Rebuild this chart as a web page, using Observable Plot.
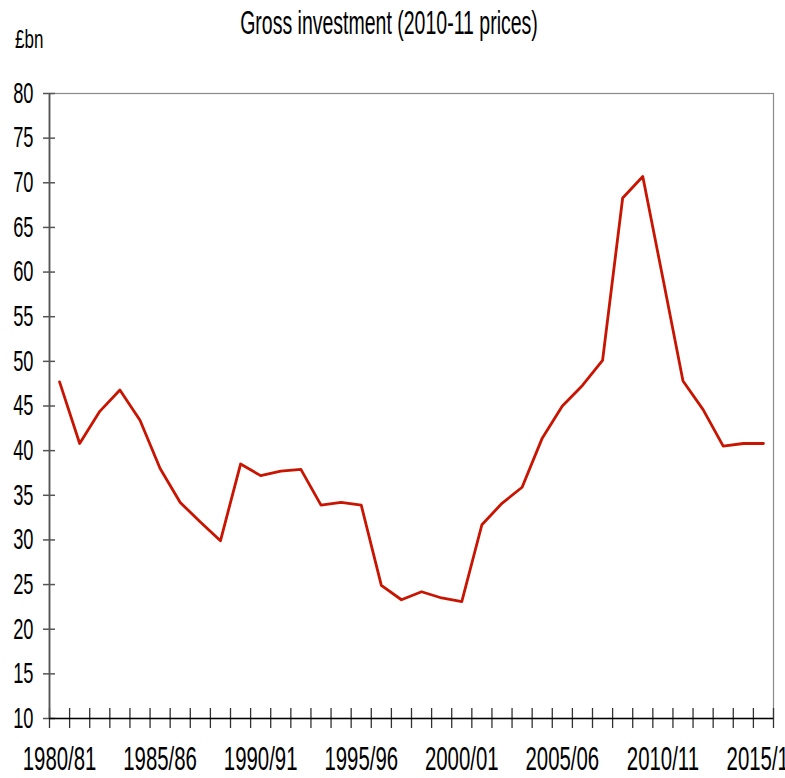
<!DOCTYPE html>
<html>
<head>
<meta charset="utf-8">
<script src="https://cdn.jsdelivr.net/npm/d3@7"></script>
<script src="https://cdn.jsdelivr.net/npm/@observablehq/plot@0.6"></script>
<style>
  html, body { margin: 0; padding: 0; background: #fff; overflow: hidden; }
  #head { position: relative; width: 785px; height: 60px; font-family: "Liberation Sans", Arial, sans-serif; color: #000; }
  #title { position: absolute; left: -4px; width: 785px; top: 8px; text-align: center; font-size: 30px; line-height: 30px; white-space: nowrap; }
  #title span { display: inline-block; transform: scale(0.65, 1.12); transform-origin: center; }
  #unit { position: absolute; left: 15px; top: 27px; font-size: 25px; line-height: 25px; transform: scale(0.68, 1.05); transform-origin: left center; white-space: nowrap; }
</style>
</head>
<body>
<div id="head"><div id="title"><span>Gross investment (2010-11 prices)</span></div><div id="unit">£bn</div></div>
<div id="chart"></div>
<script>
const years = ["1980/81","1981/82","1982/83","1983/84","1984/85","1985/86","1986/87","1987/88","1988/89","1989/90",
  "1990/91","1991/92","1992/93","1993/94","1994/95","1995/96","1996/97","1997/98","1998/99","1999/00",
  "2000/01","2001/02","2002/03","2003/04","2004/05","2005/06","2006/07","2007/08","2008/09","2009/10",
  "2010/11","2011/12","2012/13","2013/14","2014/15","2015/16"];
const investment = [47.7, 40.8, 44.4, 46.8, 43.4, 38.0, 34.2, 32.0, 29.9, 38.5,
  37.2, 37.7, 37.9, 33.9, 34.2, 33.9, 24.9, 23.3, 24.2, 23.5,
  23.1, 31.7, 34.1, 35.9, 41.4, 45.0, 47.3, 50.1, 68.3, 70.7,
  59.3, 47.8, 44.6, 40.5, 40.8, 40.8];
const yTicks = [10, 15, 20, 25, 30, 35, 40, 45, 50, 55, 60, 65, 70, 75, 80];
const labelEvery = 5;

const data = years.map((year, i) => ({i, year, value: investment[i]}));
const n = years.length;
const boundaries = d3.range(n + 1).map(k => k - 0.5);
const labelIdx = d3.range(0, n, labelEvery);
const font = '"Liberation Sans", Arial, sans-serif';

const chart = Plot.plot({
  width: 785,
  height: 718,
  marginLeft: 49,
  marginRight: 12,
  marginTop: 33,
  marginBottom: 60,
  style: {fontFamily: font, fontSize: "24px", color: "#000", background: "#fff", overflow: "visible"},
  x: {type: "linear", domain: [-0.5, n - 0.5], label: null},
  y: {domain: [10, 80], label: null},
  marks: [
    Plot.frame({stroke: "#8a8a8a", strokeWidth: 1.2}),
    // y tick marks crossing the axis
    Plot.axisY({ticks: yTicks, tickSize: 12, dx: 6, text: null, label: null, stroke: "#555", strokeWidth: 1.5}),
    Plot.axisY({ticks: yTicks, tickSize: 0, tickPadding: 16, label: null, fontSize: 29}),
    // x tick marks crossing the axis
    Plot.axisX({ticks: boundaries, tickSize: 20, dy: -10, text: null, label: null, stroke: "#333", strokeWidth: 1.3}),
    Plot.axisX({ticks: labelIdx, tickSize: 0, tickPadding: 27, tickFormat: i => years[i], label: null, fontSize: 34}),
    Plot.ruleX([-0.5], {stroke: "#555", strokeWidth: 1.8}),
    Plot.ruleY([10], {stroke: "#000", strokeWidth: 1.5}),
    Plot.line(data, {x: "i", y: "value", stroke: "#c81400", strokeWidth: 2.8})
  ]
});
// condense the tick label glyphs horizontally (narrow typeface look), scaling about each text's anchor
function condense(axisName, k) {
  chart.querySelectorAll("g").forEach(g => {
    if ((g.getAttribute("aria-label") || "") !== axisName) return;
    g.querySelectorAll("text").forEach(el => {
      const x = parseFloat(el.getAttribute("x")) || 0;
      const t = el.getAttribute("transform") || "";
      el.setAttribute("transform", `${t} translate(${x},0) scale(${k},1) translate(${-x},0)`.trim());
    });
  });
}
condense("y-axis tick label", 0.63);
condense("x-axis tick label", 0.6);
document.getElementById("chart").appendChild(chart);
</script>
</body>
</html>
